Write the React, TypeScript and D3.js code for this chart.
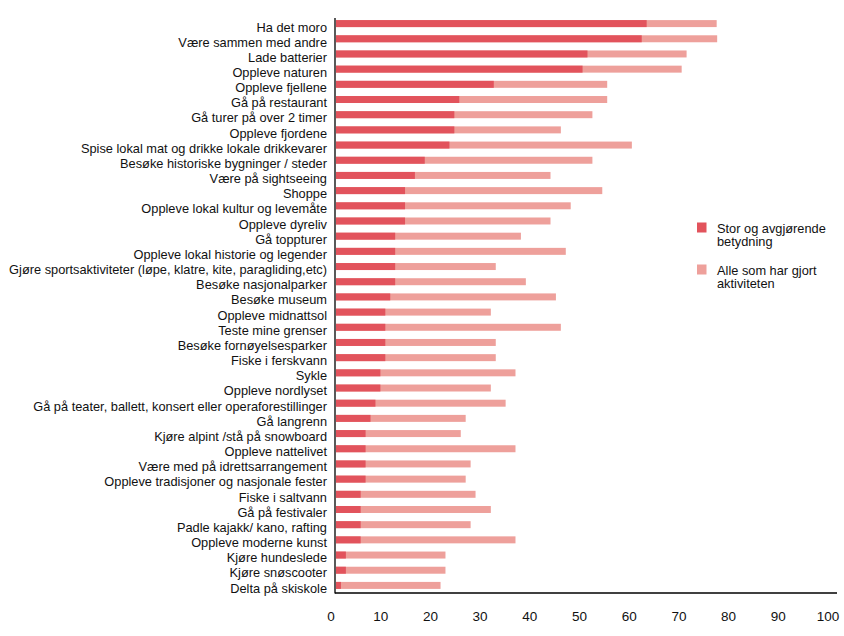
import React from "react";
import * as d3 from "d3";

const categories = [
  "Ha det moro",
  "Være sammen med andre",
  "Lade batterier",
  "Oppleve naturen",
  "Oppleve fjellene",
  "Gå på restaurant",
  "Gå turer på over 2 timer",
  "Oppleve fjordene",
  "Spise lokal mat og drikke lokale drikkevarer",
  "Besøke historiske bygninger / steder",
  "Være på sightseeing",
  "Shoppe",
  "Oppleve lokal kultur og levemåte",
  "Oppleve dyreliv",
  "Gå toppturer",
  "Oppleve lokal historie og legender",
  "Gjøre sportsaktiviteter (løpe, klatre, kite, paragliding,etc)",
  "Besøke nasjonalparker",
  "Besøke museum",
  "Oppleve midnattsol",
  "Teste mine grenser",
  "Besøke fornøyelsesparker",
  "Fiske i ferskvann",
  "Sykle",
  "Oppleve nordlyset",
  "Gå på teater, ballett, konsert eller operaforestillinger",
  "Gå langrenn",
  "Kjøre alpint /stå på snowboard",
  "Oppleve nattelivet",
  "Være med på idrettsarrangement",
  "Oppleve tradisjoner og nasjonale fester",
  "Fiske i saltvann",
  "Gå på festivaler",
  "Padle kajakk/ kano, rafting",
  "Oppleve moderne kunst",
  "Kjøre hundeslede",
  "Kjøre snøscooter",
  "Delta på skiskole",
];

// Stor og avgjørende betydning
const importantValues = [
  63, 62, 51, 50, 32, 25, 24, 24, 23, 18, 16, 14, 14, 14, 12, 12, 12, 12, 11,
  10, 10, 10, 10, 9, 9, 8, 7, 6, 6, 6, 6, 5, 5, 5, 5, 2, 2, 1,
];

// Alle som har gjort aktiviteten
const allValues = [
  77.2, 77.3, 71.1, 70.1, 55, 55, 52, 45.6, 60, 52, 43.5, 54, 47.6, 43.5, 37.5,
  46.6, 32.4, 38.5, 44.6, 31.4, 45.6, 32.4, 32.4, 36.4, 31.4, 34.4, 26.3, 25.3,
  36.4, 27.3, 26.3, 28.3, 31.4, 27.3, 36.4, 22.2, 22.2, 21.2,
];

const xTicks = [0, 10, 20, 30, 40, 50, 60, 70, 80, 90, 100];

const legendLabels = [
  ["Stor og avgjørende", "betydning"],
  ["Alle som har gjort", "aktiviteten"],
];

const DARK = "#E2535C";
const LIGHT = "#EEA09B";
const FONT = "'Liberation Sans', Arial, sans-serif";

export default function App() {
  const width = 844;
  const height = 636;

  const x = d3.scaleLinear().domain([0, 100]).range([336, 829.1]);
  const xLabel = d3.scaleLinear().domain([0, 100]).range([331, 828]);
  const y = d3
    .scaleBand<string>()
    .domain(categories)
    .range([16, 593])
    .paddingInner(0.54)
    .paddingOuter(0.27);
  const yLabel = d3
    .scalePoint<string>()
    .domain(categories)
    .range([27, 588]);

  const bh = y.bandwidth();

  return (
    <svg
      width={width}
      height={height}
      style={{ position: "absolute", left: 0, top: 0, background: "#fff" }}
      fontFamily={FONT}
    >
      {categories.map((c, i) => (
        <g key={c}>
          <rect
            x={x(0)}
            y={y(c)}
            width={x(allValues[i]) - x(0)}
            height={bh}
            fill={LIGHT}
          />
          <rect
            x={x(0)}
            y={y(c)}
            width={x(importantValues[i]) - x(0)}
            height={bh}
            fill={DARK}
          />
          <text
            x={327}
            y={yLabel(c)}
            textAnchor="end"
            dominantBaseline="central"
            fontSize={12.8}
            fill="#111"
          >
            {c}
          </text>
        </g>
      ))}
      <line x1={335} x2={335} y1={18} y2={593.5} stroke="#000" strokeWidth={1.3} />
      <line x1={335} x2={837} y1={593} y2={593} stroke="#000" strokeWidth={1.3} />
      {xTicks.map((t) => (
        <text
          key={t}
          x={xLabel(t)}
          y={616}
          textAnchor="middle"
          dominantBaseline="central"
          fontSize={13.5}
          fill="#111"
        >
          {t}
        </text>
      ))}
      {legendLabels.map((lines, i) => (
        <g key={i} transform={`translate(697, ${222.5 + i * 42})`}>
          <rect x={0} y={0} width={9.5} height={10} fill={i === 0 ? DARK : LIGHT} />
          {lines.map((l, j) => (
            <text
              key={j}
              x={20}
              y={5.5 + j * 13.5}
              dominantBaseline="central"
              fontSize={12.8}
              fill="#111"
            >
              {l}
            </text>
          ))}
        </g>
      ))}
    </svg>
  );
}
